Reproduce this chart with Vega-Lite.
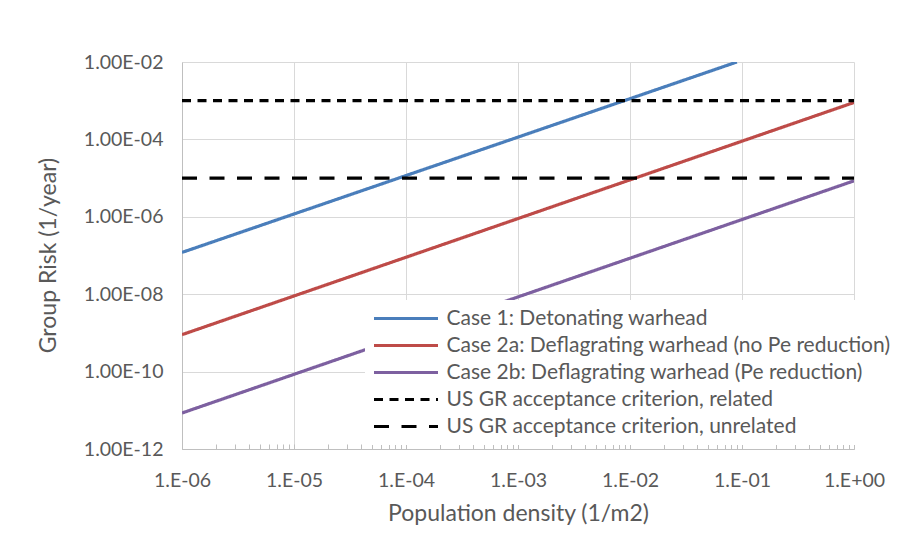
{
  "$schema": "https://vega.github.io/schema/vega-lite/v6.json",
  "width": 672,
  "height": 387,
  "autosize": {"type": "none"},
  "padding": {"left": 182, "top": 62, "right": 48, "bottom": 97},
  "background": "white",
  "config": {
    "font": "Lato",
    "view": {"stroke": null},
    "axis": {
      "labelFont": "Lato",
      "titleFont": "Lato",
      "labelColor": "#595959",
      "titleColor": "#595959",
      "labelFontSize": 19.5,
      "titleFontSize": 23,
      "titleFontWeight": "normal",
      "gridColor": "#d9d9d9",
      "gridWidth": 1,
      "domainColor": "#bfbfbf",
      "domainWidth": 1
    },
    "legend": {
      "labelFont": "Lato",
      "labelFontSize": 21,
      "labelColor": "#595959"
    }
  },
  "data": {
    "values": [
      {"series": "Case 1: Detonating warhead", "x": 1e-6, "y": 1.2e-7},
      {"series": "Case 1: Detonating warhead", "x": 0.09, "y": 1e-2},
      {"series": "Case 2a: Deflagrating warhead (no Pe reduction)", "x": 1e-6, "y": 9e-10},
      {"series": "Case 2a: Deflagrating warhead (no Pe reduction)", "x": 1, "y": 9e-4},
      {"series": "Case 2b: Deflagrating warhead (Pe reduction)", "x": 1e-6, "y": 8.5e-12},
      {"series": "Case 2b: Deflagrating warhead (Pe reduction)", "x": 1, "y": 8.5e-6},
      {"series": "US GR acceptance criterion, related", "x": 1e-6, "y": 1e-3},
      {"series": "US GR acceptance criterion, related", "x": 1, "y": 1e-3},
      {"series": "US GR acceptance criterion, unrelated", "x": 1e-6, "y": 1e-5},
      {"series": "US GR acceptance criterion, unrelated", "x": 1, "y": 1e-5}
    ]
  },
  "mark": {"type": "line", "strokeWidth": 3.2, "clip": true},
  "encoding": {
    "x": {
      "field": "x",
      "type": "quantitative",
      "scale": {"type": "log", "domain": [1e-6, 1], "nice": false},
      "axis": {
        "title": "Population density (1/m2)",
        "values": [1e-6, 2e-6, 3e-6, 4e-6, 5e-6, 6e-6, 7e-6, 8e-6, 9e-6,
                   1e-5, 2e-5, 3e-5, 4e-5, 5e-5, 6e-5, 7e-5, 8e-5, 9e-5,
                   1e-4, 2e-4, 3e-4, 4e-4, 5e-4, 6e-4, 7e-4, 8e-4, 9e-4,
                   1e-3, 2e-3, 3e-3, 4e-3, 5e-3, 6e-3, 7e-3, 8e-3, 9e-3,
                   1e-2, 2e-2, 3e-2, 4e-2, 5e-2, 6e-2, 7e-2, 8e-2, 9e-2,
                   1e-1, 2e-1, 3e-1, 4e-1, 5e-1, 6e-1, 7e-1, 8e-1, 9e-1, 1],
        "labelExpr": "abs(log(datum.value)/LN10 - round(log(datum.value)/LN10)) < 1e-6 ? '1.E' + (round(log(datum.value)/LN10) < 0 ? '-' : '+') + (abs(round(log(datum.value)/LN10)) < 10 ? '0' : '') + abs(round(log(datum.value)/LN10)) : ''",
        "gridOpacity": {"condition": {"test": "abs(log(datum.value)/LN10 - round(log(datum.value)/LN10)) < 1e-6", "value": 1}, "value": 0},
        "tickSize": -5,
        "tickColor": "#bfbfbf",
        "labelPadding": 27,
        "labelFlush": false,
        "labelOverlap": false,
        "titlePadding": 13
      }
    },
    "y": {
      "field": "y",
      "type": "quantitative",
      "scale": {"type": "log", "domain": [1e-12, 1e-2], "nice": false},
      "axis": {
        "title": "Group Risk (1/year)",
        "values": [1e-12, 1e-10, 1e-8, 1e-6, 1e-4, 1e-2],
        "labelExpr": "'1.00E' + (round(log(datum.value)/LN10) < 0 ? '-' : '+') + (abs(round(log(datum.value)/LN10)) < 10 ? '0' : '') + abs(round(log(datum.value)/LN10))",
        "ticks": false,
        "tickSize": 0,
        "labelPadding": 19,
        "labelFlush": false,
        "titleX": -134,
        "titleY": 193,
        "titleAngle": -90,
        "titleAlign": "center",
        "titleBaseline": "middle"
      }
    },
    "color": {
      "field": "series",
      "type": "nominal",
      "scale": {
        "domain": ["Case 1: Detonating warhead", "Case 2a: Deflagrating warhead (no Pe reduction)", "Case 2b: Deflagrating warhead (Pe reduction)", "US GR acceptance criterion, related", "US GR acceptance criterion, unrelated"],
        "range": ["#4a7ebb", "#be4b48", "#7d60a0", "#000000", "#000000"]
      },
      "legend": {
        "title": null,
        "orient": "none",
        "legendX": 183,
        "legendY": 238,
        "fillColor": "white",
        "padding": 8,
        "symbolType": "M-4,0H4",
        "symbolSize": 256,
        "symbolStrokeWidth": 3.2,
        "symbolOffset": 22.5,
        "labelOffset": 30,
        "rowPadding": 5,
        "labelLimit": 600
      }
    },
    "strokeDash": {
      "field": "series",
      "type": "nominal",
      "scale": {
        "domain": ["Case 1: Detonating warhead", "Case 2a: Deflagrating warhead (no Pe reduction)", "Case 2b: Deflagrating warhead (Pe reduction)", "US GR acceptance criterion, related", "US GR acceptance criterion, unrelated"],
        "range": [[1, 0], [1, 0], [1, 0], [9, 6.5], [15, 12.5]]
      },
      "legend": {
        "title": null,
        "orient": "none",
        "legendX": 183,
        "legendY": 238,
        "fillColor": "white",
        "padding": 8,
        "symbolType": "M-4,0H4",
        "symbolSize": 256,
        "symbolStrokeWidth": 3.2,
        "symbolOffset": 22.5,
        "labelOffset": 30,
        "rowPadding": 5,
        "labelLimit": 600
      }
    }
  }
}
